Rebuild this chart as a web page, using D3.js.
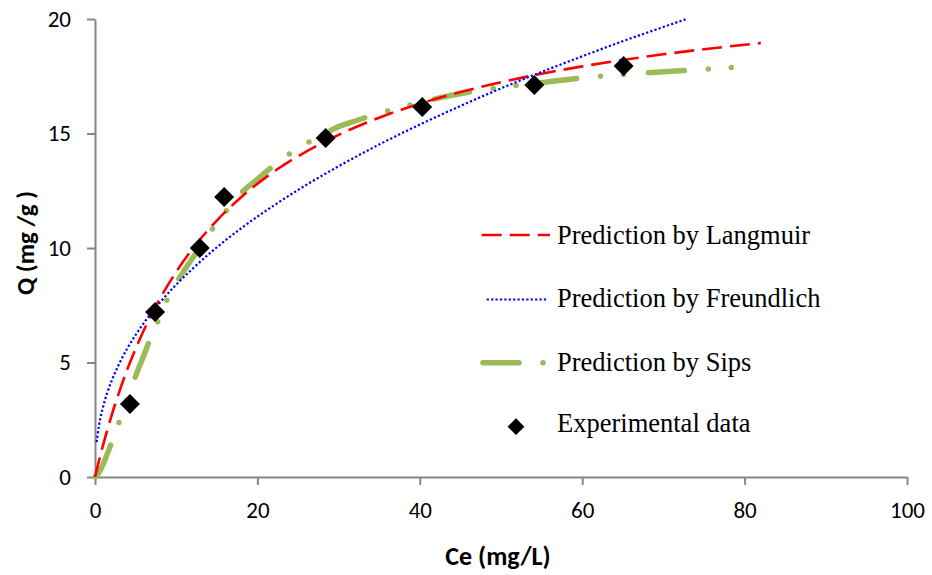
<!DOCTYPE html>
<html>
<head>
<meta charset="utf-8">
<script src="https://cdn.jsdelivr.net/npm/d3@7"></script>
<style>
  html, body { margin: 0; padding: 0; background: #fff; }
  svg { display: block; }
</style>
</head>
<body>
<svg id="chart" width="932" height="575"></svg>
<script>
// ---- Data ----
const expCe = [4.3, 7.4, 12.9, 15.9, 28.4, 40.3, 54.1, 65.1];
const expQ  = [3.19, 7.2, 10.0, 12.23, 14.8, 16.16, 17.12, 17.95];

const langmuirCe = [0, 0.5, 1, 2, 3, 4, 5, 6, 8, 10, 12, 15, 18, 22, 26, 30, 35, 40, 45, 50, 55, 60, 65, 70, 75, 82];
const langmuirQ  = [0, 0.72, 1.40, 2.64, 3.73, 4.72, 5.60, 6.40, 7.79, 8.96, 9.96, 11.20, 12.22, 13.33, 14.21, 14.94, 15.69, 16.30, 16.81, 17.24, 17.61, 17.93, 18.21, 18.46, 18.68, 18.95];

const freundlichCe = [0.2, 0.5, 1, 1.5, 2, 3, 4, 5, 6, 8, 10, 12, 15, 18, 22, 26, 30, 35, 40, 45, 50, 55, 60, 65, 70, 73];
const freundlichQ  = [1.52, 2.27, 3.07, 3.67, 4.16, 4.96, 5.63, 6.20, 6.72, 7.62, 8.40, 9.09, 10.03, 10.86, 11.85, 12.75, 13.57, 14.52, 15.39, 16.20, 16.97, 17.69, 18.37, 19.03, 19.65, 20.02];

const sipsCe = [0, 0.5, 1, 1.5, 2.25, 3.2, 4.2, 5.1, 6, 7, 8, 9.2, 10.5, 12, 13, 14.5, 16, 18, 20, 22, 25, 27.5, 30, 32.5, 35, 37.5, 40, 43, 46, 49, 52, 55, 58, 61, 64, 67, 70, 73, 76, 78, 80.7];
const sipsQ  = [0, 0.2, 0.55, 1.0, 1.69, 2.63, 3.6, 4.5, 5.3, 6.2, 7.0, 8.0, 8.75, 9.55, 10.05, 10.85, 11.55, 12.4, 13.0, 13.6, 14.35, 14.85, 15.3, 15.6, 15.88, 16.12, 16.35, 16.6, 16.8, 16.97, 17.1, 17.22, 17.35, 17.46, 17.55, 17.63, 17.7, 17.76, 17.83, 17.87, 17.92];

const xTicks = [0, 20, 40, 60, 80, 100];
const yTicks = [0, 5, 10, 15, 20];

const legendLabels = ["Prediction by Langmuir", "Prediction by Freundlich", "Prediction by Sips", "Experimental data"];

// ---- Chart ----
const svg = d3.select("#chart");
const x = d3.scaleLinear().domain([0, 100]).range([95, 907]);
const y = d3.scaleLinear().domain([0, 20]).range([477, 19]);

const axisColor = "#868686";
const tickFont = "Carlito, Calibri, Lato, sans-serif";

// X axis
const gx = svg.append("g").attr("transform", `translate(0,${y(0)})`)
  .call(d3.axisBottom(x).tickValues(xTicks).tickSize(8).tickSizeOuter(0).tickFormat(d3.format("d")));
gx.select(".domain").attr("stroke", axisColor).attr("stroke-width", 2);
gx.selectAll(".tick line").attr("stroke", axisColor).attr("stroke-width", 2);
gx.selectAll(".tick text").attr("y", 41).attr("dy", 0)
  .attr("font-family", tickFont).attr("font-size", 23).attr("fill", "#000");

// Y axis
const gy = svg.append("g").attr("transform", `translate(${x(0)},0)`)
  .call(d3.axisLeft(y).tickValues(yTicks).tickSize(8).tickSizeOuter(0).tickPadding(16).tickFormat(d3.format("d")));
gy.select(".domain").attr("stroke", axisColor).attr("stroke-width", 2);
gy.selectAll(".tick line").attr("stroke", axisColor).attr("stroke-width", 2);
gy.selectAll(".tick text").attr("dy", "0.32em")
  .attr("font-family", tickFont).attr("font-size", 23).attr("fill", "#000");

// Axis titles
svg.append("text").attr("x", 498).attr("y", 565).attr("text-anchor", "middle")
  .attr("font-family", tickFont).attr("font-weight", "bold").attr("font-size", 26)
  .text("Ce (mg/L)");
svg.append("text").attr("transform", "translate(34,243) rotate(-90)").attr("text-anchor", "middle")
  .attr("font-family", tickFont).attr("font-weight", "bold").attr("font-size", 25)
  .text("Q (mg /g )");

const line = d3.line().x(d => x(d[0])).y(d => y(d[1])).curve(d3.curveMonotoneX);

const sipsStyle = { stroke: "#9bbb59", width: 5.5, dash: "36,24,0,23,0,25", cap: "round" };
const langStyle = { stroke: "#ff0000", width: 2.6, dash: "20,8", cap: "butt" };
const freuStyle = { stroke: "#0000ff", width: 2.2, dash: "2.2,2.2", cap: "butt" };

function drawSeries(ce, q, s) {
  svg.append("path").datum(ce.map((c, i) => [c, q[i]]))
    .attr("d", line).attr("fill", "none")
    .attr("stroke", s.stroke).attr("stroke-width", s.width)
    .attr("stroke-dasharray", s.dash).attr("stroke-linecap", s.cap);
}
drawSeries(sipsCe, sipsQ, sipsStyle);
drawSeries(langmuirCe, langmuirQ, langStyle);
drawSeries(freundlichCe, freundlichQ, freuStyle);

const diamond = (size) => d3.symbol().type(d3.symbolSquare).size(size)();
svg.append("g").selectAll("path").data(expCe.map((c, i) => [c, expQ[i]])).join("path")
  .attr("d", diamond(200))
  .attr("transform", d => `translate(${x(d[0])},${y(d[1])}) rotate(45)`)
  .attr("fill", "#000");

// Legend
const legendFont = "'Liberation Serif', 'Times New Roman', serif";
const rows = [
  { cy: 235, style: langStyle, x1: 481.7, x2: 550 },
  { cy: 299.5, style: freuStyle, x1: 486.7, x2: 547.5 },
  { cy: 362.7, style: sipsStyle, x1: 483, x2: 548 },
];
rows.forEach((r) => {
  svg.append("line").attr("x1", r.x1).attr("x2", r.x2).attr("y1", r.cy).attr("y2", r.cy)
    .attr("stroke", r.style.stroke).attr("stroke-width", r.style.width)
    .attr("stroke-dasharray", r.style.dash).attr("stroke-linecap", r.style.cap);
});
svg.append("path").attr("d", diamond(140))
  .attr("transform", "translate(516,426.7) rotate(45)").attr("fill", "#000");
const bases = [243.5, 307, 370.5, 432];
legendLabels.forEach((t, i) => {
  svg.append("text").attr("x", 557).attr("y", bases[i])
    .attr("font-family", legendFont).attr("font-size", 26.5).attr("fill", "#000")
    .text(t);
});
</script>
</body>
</html>
